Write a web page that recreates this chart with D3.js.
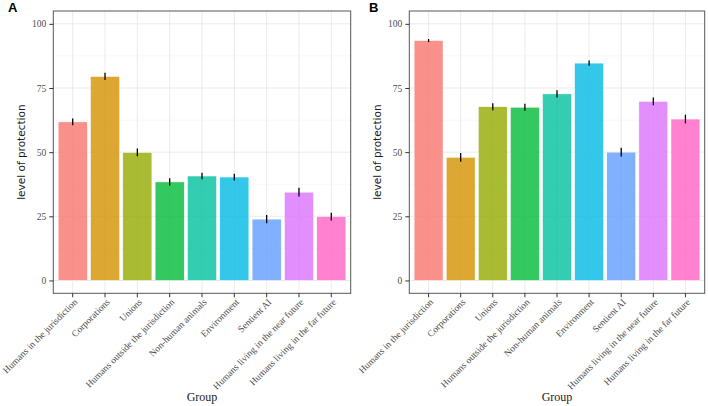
<!DOCTYPE html>
<html>
<head>
<meta charset="utf-8">
<script src="https://cdn.jsdelivr.net/npm/d3@7"></script>
<style>
  body { margin: 0; background: #fff; }
  svg { display: block; }
</style>
</head>
<body>
<svg id="chart" width="708" height="406"></svg>
<script>
const categories = ["Humans in the jurisdiction", "Corporations", "Unions",
  "Humans outside the jurisdiction", "Non-human animals", "Environment",
  "Sentient AI", "Humans living in the near future", "Humans living in the far future"];
const valuesA = [61.8, 79.5, 49.9, 38.4, 40.7, 40.3, 23.9, 34.4, 24.9];
const errorsA = [1.3, 1.4, 1.5, 1.4, 1.3, 1.3, 1.6, 1.7, 1.5];
const valuesB = [93.5, 48.0, 67.7, 67.5, 72.7, 84.7, 50.0, 69.8, 62.9];
const errorsB = [0.6, 1.7, 1.4, 1.4, 1.4, 1.0, 1.7, 1.5, 1.7];
const yTicks = [0, 25, 50, 75, 100];
const yMinor = [12.5, 37.5, 62.5, 87.5];
const colors = ["#F8766D", "#D39200", "#93AA00", "#00BA38", "#00C19F",
  "#00B9E3", "#619CFF", "#DB72FB", "#FF61C3"];
const panelLabels = ["A", "B"];

const svg = d3.select("#chart");

function drawPanel(opts) {
  const { left, right, top, bottom, values, errors, label, labelX, titleX } = opts;
  const g = svg.append("g");
  const y = d3.scaleLinear().domain([-5, 105]).range([bottom, top]);
  const x = d3.scaleBand().domain(categories).range([left, right])
    .paddingInner(0.1).paddingOuter(0.15);
  const cx = d => x(d) + x.bandwidth() / 2;

  g.selectAll(".minor").data(yMinor).enter().append("line")
    .attr("x1", left).attr("x2", right)
    .attr("y1", d => y(d)).attr("y2", d => y(d))
    .attr("stroke", "#f2f2f2").attr("stroke-width", 0.6);
  g.selectAll(".majh").data(yTicks).enter().append("line")
    .attr("x1", left).attr("x2", right)
    .attr("y1", d => y(d)).attr("y2", d => y(d))
    .attr("stroke", "#ebebeb").attr("stroke-width", 1);
  g.selectAll(".majv").data(categories).enter().append("line")
    .attr("x1", cx).attr("x2", cx)
    .attr("y1", top).attr("y2", bottom)
    .attr("stroke", "#ebebeb").attr("stroke-width", 1);

  g.selectAll(".bar").data(categories).enter().append("rect")
    .attr("x", d => x(d))
    .attr("width", x.bandwidth())
    .attr("y", (d, i) => y(values[i]))
    .attr("height", (d, i) => y(0) - y(values[i]))
    .attr("fill", (d, i) => colors[i])
    .attr("fill-opacity", 0.8)
    .attr("stroke", "#ffffff").attr("stroke-width", 0.5);

  g.selectAll(".err").data(categories).enter().append("line")
    .attr("x1", cx).attr("x2", cx)
    .attr("y1", (d, i) => y(values[i] - errors[i]))
    .attr("y2", (d, i) => y(values[i] + errors[i]))
    .attr("stroke", "#000").attr("stroke-width", 1.3);

  g.append("rect").attr("x", left).attr("y", top)
    .attr("width", right - left).attr("height", bottom - top)
    .attr("fill", "none").attr("stroke", "#555").attr("stroke-width", 1);

  const ya = g.append("g").attr("transform", `translate(${left},0)`)
    .call(d3.axisLeft(y).tickValues(yTicks).tickSize(4).tickPadding(3));
  ya.select(".domain").remove();
  ya.selectAll(".tick line").attr("stroke", "#333");
  ya.selectAll(".tick text").attr("fill", "#4d4d4d")
    .style("font-family", "'Liberation Serif', serif").style("font-size", "9.5px");

  const xa = g.append("g").attr("transform", `translate(0,${bottom})`)
    .call(d3.axisBottom(x).tickSize(4).tickSizeOuter(0));
  xa.select(".domain").remove();
  xa.selectAll(".tick line").attr("stroke", "#333");
  xa.selectAll(".tick text")
    .attr("fill", "#4d4d4d")
    .style("font-family", "'Liberation Serif', serif").style("font-size", "9.5px")
    .attr("text-anchor", "end")
    .attr("transform", "translate(3,7) rotate(-45)")
    .attr("x", 0).attr("y", 0).attr("dy", "0.35em");

  svg.append("text")
    .attr("x", (left + right) / 2).attr("y", 401)
    .attr("text-anchor", "middle")
    .style("font-family", "'Liberation Serif', serif").style("font-size", "12px")
    .attr("fill", "#1a1a1a")
    .text("Group");
  svg.append("text")
    .attr("transform", `translate(${titleX},${(top + bottom) / 2}) rotate(-90)`)
    .attr("text-anchor", "middle")
    .style("font-family", "'DejaVu Sans', sans-serif").style("font-size", "10.5px")
    .attr("fill", "#1a1a1a")
    .text("level of protection");
  svg.append("text")
    .attr("x", labelX).attr("y", 12)
    .style("font-family", "'Liberation Sans', Arial, sans-serif")
    .style("font-size", "13px").style("font-weight", "bold")
    .attr("fill", "#000")
    .text(label);
}

drawPanel({ left: 53.3, right: 350.7, top: 11, bottom: 293.3,
  values: valuesA, errors: errorsA, label: panelLabels[0], labelX: 8, titleX: 25 });
drawPanel({ left: 409.3, right: 704.7, top: 11, bottom: 293.3,
  values: valuesB, errors: errorsB, label: panelLabels[1], labelX: 369, titleX: 381 });
</script>
</body>
</html>
